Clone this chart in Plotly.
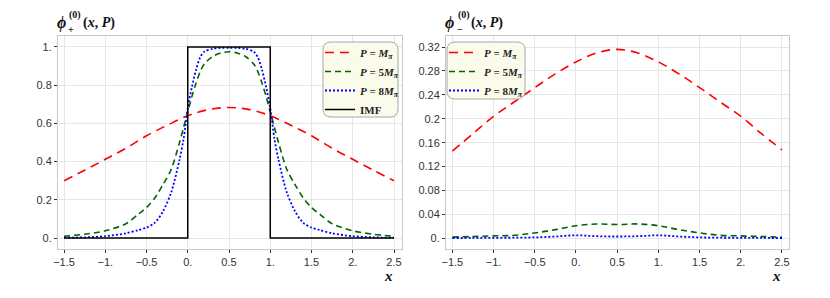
import plotly.graph_objects as go

# ---------------- data ----------------
x_red = [-1.5, -1.25, -1.0, -0.75, -0.5, -0.25, 0.0, 0.25, 0.5, 0.75, 1.0, 1.25, 1.5, 1.75, 2.0, 2.25, 2.5]
plus_M1 = [0.300, 0.355, 0.412, 0.470, 0.535, 0.590, 0.640, 0.672, 0.683, 0.672, 0.640, 0.590, 0.535, 0.470, 0.412, 0.355, 0.300]

x_steep = [-1.5, -1.25, -1.0, -0.75, -0.6, -0.5, -0.4, -0.3, -0.2, -0.1, -0.05, 0.0, 0.05, 0.1, 0.15, 0.2, 0.3, 0.4, 0.5,
           0.6, 0.7, 0.8, 0.85, 0.9, 0.95, 1.0, 1.05, 1.1, 1.2, 1.3, 1.4, 1.5, 1.6, 1.75, 2.0, 2.25, 2.5]
plus_M5 = [0.010, 0.020, 0.038, 0.075, 0.125, 0.160, 0.210, 0.280, 0.360, 0.500, 0.580, 0.660, 0.740, 0.810, 0.870, 0.910, 0.950, 0.968, 0.975,
           0.968, 0.950, 0.910, 0.870, 0.810, 0.740, 0.660, 0.580, 0.500, 0.360, 0.280, 0.210, 0.160, 0.125, 0.075, 0.038, 0.020, 0.010]
plus_M8 = [0.002, 0.004, 0.010, 0.025, 0.042, 0.055, 0.080, 0.140, 0.240, 0.410, 0.520, 0.680, 0.790, 0.880, 0.945, 0.975, 0.990, 0.995, 0.995,
           0.995, 0.990, 0.975, 0.945, 0.880, 0.790, 0.680, 0.520, 0.410, 0.240, 0.140, 0.080, 0.055, 0.042, 0.025, 0.010, 0.004, 0.002]

x_imf = [-1.5, 0.0, 0.0, 1.0, 1.0, 2.5]
imf = [0, 0, 1, 1, 0, 0]

x_minus = [-1.5, -1.25, -1.0, -0.75, -0.5, -0.25, 0.0, 0.25, 0.5, 0.75, 1.0, 1.25, 1.5, 1.75, 2.0, 2.25, 2.5]
minus_M1 = [0.146, 0.175, 0.204, 0.228, 0.252, 0.275, 0.295, 0.310, 0.316, 0.310, 0.295, 0.275, 0.252, 0.228, 0.204, 0.175, 0.148]
minus_M5 = [0.002, 0.003, 0.004, 0.005, 0.009, 0.0145, 0.021, 0.024, 0.023, 0.024, 0.021, 0.0145, 0.009, 0.005, 0.004, 0.003, 0.002]
minus_M8 = [0.0005, 0.0006, 0.0008, 0.001, 0.0015, 0.003, 0.005, 0.0035, 0.003, 0.0035, 0.005, 0.003, 0.0015, 0.001, 0.0008, 0.0006, 0.0005]

x_ticks = [-1.5, -1.0, -0.5, 0.0, 0.5, 1.0, 1.5, 2.0, 2.5]
x_ticktext = ["\u22121.5", "\u22121.", "\u22120.5", "0.", "0.5", "1.", "1.5", "2.", "2.5"]
yL_ticks = [0, 0.2, 0.4, 0.6, 0.8, 1.0]
yL_ticktext = ["0.", "0.2", "0.4", "0.6", "0.8", "1."]
yR_ticks = [0, 0.04, 0.08, 0.12, 0.16, 0.2, 0.24, 0.28, 0.32]
yR_ticktext = ["0.", "0.04", "0.08", "0.12", "0.16", "0.2", "0.24", "0.28", "0.32"]

names = ["<b><i>P</i> = <i>M</i><sub><i>\u03c0</i></sub></b>",
         "<b><i>P</i> = 5<i>M</i><sub><i>\u03c0</i></sub></b>",
         "<b><i>P</i> = 8<i>M</i><sub><i>\u03c0</i></sub></b>",
         "<b>IMF</b>"]

# ---------------- figure ----------------
# the page body has an 8px margin, so the figure is 16px smaller and offset
OFF = 8
W, H = 830 - 2 * OFF, 298 - 2 * OFF
RED, GREEN, BLUE = "#ff0000", "#006400", "#0000ff"

fig = go.Figure()
# left panel
fig.add_trace(go.Scatter(x=x_red, y=plus_M1, mode="lines", line=dict(color=RED, width=1.6, dash="9px,6px", shape="spline"),
                         name=names[0], legend="legend", xaxis="x", yaxis="y"))
fig.add_trace(go.Scatter(x=x_steep, y=plus_M5, mode="lines", line=dict(color=GREEN, width=1.6, dash="6px,4px", shape="spline", smoothing=0.8),
                         name=names[1], legend="legend", xaxis="x", yaxis="y"))
fig.add_trace(go.Scatter(x=x_steep, y=plus_M8, mode="lines", line=dict(color=BLUE, width=1.8, dash="2px,2px", shape="spline", smoothing=0.8),
                         name=names[2], legend="legend", xaxis="x", yaxis="y"))
fig.add_trace(go.Scatter(x=x_imf, y=imf, mode="lines", line=dict(color="black", width=1.5),
                         name=names[3], legend="legend", xaxis="x", yaxis="y"))
# right panel
fig.add_trace(go.Scatter(x=x_minus, y=minus_M1, mode="lines", line=dict(color=RED, width=1.6, dash="9px,6px", shape="spline"),
                         name=names[0], legend="legend2", xaxis="x2", yaxis="y2"))
fig.add_trace(go.Scatter(x=x_minus, y=minus_M5, mode="lines", line=dict(color=GREEN, width=1.6, dash="6px,4px", shape="spline"),
                         name=names[1], legend="legend2", xaxis="x2", yaxis="y2"))
fig.add_trace(go.Scatter(x=x_minus, y=minus_M8, mode="lines", line=dict(color=BLUE, width=1.8, dash="2px,2px", shape="spline"),
                         name=names[2], legend="legend2", xaxis="x2", yaxis="y2"))

def X(px):
    return (px - OFF) / W

def Y(py):
    return 1 - (py - OFF) / H

axis_common = dict(showgrid=True, gridcolor="#e6e6e6", gridwidth=1, zeroline=False,
                   showline=True, linecolor="#c8c8c8", linewidth=1, mirror=True,
                   ticks="outside", ticklen=3, tickwidth=1, tickcolor="#333333", automargin=False,
                   tickfont=dict(family="Liberation Sans, Arial", size=11, color="#333333"))

fig.update_layout(
    width=W, height=H,
    margin=dict(l=0, r=0, t=0, b=0, autoexpand=False),
    paper_bgcolor="white", plot_bgcolor="white",
    xaxis=dict(domain=[X(58), X(402)], range=[-1.573, 2.597], tickvals=x_ticks, ticktext=x_ticktext, anchor="y", **axis_common),
    yaxis=dict(domain=[Y(249), Y(36)], range=[-0.057, 1.057], tickvals=yL_ticks, ticktext=yL_ticktext, anchor="x", **axis_common),
    xaxis2=dict(domain=[X(446), X(789)], range=[-1.577, 2.585], tickvals=x_ticks, ticktext=x_ticktext, anchor="y2", **axis_common),
    yaxis2=dict(domain=[Y(249), Y(36)], range=[-0.0179, 0.3384], tickvals=yR_ticks, ticktext=yR_ticktext, anchor="x2", **axis_common),
    legend=dict(x=X(320), y=Y(38), xanchor="left", yanchor="top", bgcolor="rgba(0,0,0,0)", borderwidth=0,
                font=dict(family="Liberation Serif, Times New Roman", size=11, color="#222222"),
                tracegroupgap=0, itemwidth=30),
    legend2=dict(x=X(444), y=Y(38), xanchor="left", yanchor="top", bgcolor="rgba(0,0,0,0)", borderwidth=0,
                 font=dict(family="Liberation Serif, Times New Roman", size=11, color="#222222"),
                 tracegroupgap=0, itemwidth=30),
)

def rrect(x0, y0, x1, y1, r):
    return (f"M {X(x0+r)},{Y(y0)} L {X(x1-r)},{Y(y0)} Q {X(x1)},{Y(y0)} {X(x1)},{Y(y0+r)} "
            f"L {X(x1)},{Y(y1-r)} Q {X(x1)},{Y(y1)} {X(x1-r)},{Y(y1)} "
            f"L {X(x0+r)},{Y(y1)} Q {X(x0)},{Y(y1)} {X(x0)},{Y(y1-r)} "
            f"L {X(x0)},{Y(y0+r)} Q {X(x0)},{Y(y0)} {X(x0+r)},{Y(y0)} Z")

for box in [(323, 42, 398, 117), (447, 42, 525, 99)]:
    fig.add_shape(type="path", path=rrect(*box, 8), xref="paper", yref="paper", layer="above",
                  fillcolor="#fbfbec", line=dict(color="#a8a8a8", width=1))

serif = "Liberation Serif, Times New Roman"
def ann(text, px, py, size, xanchor="left"):
    fig.add_annotation(text=text, x=X(px), y=Y(py), xref="paper", yref="paper", showarrow=False,
                       xanchor=xanchor, yanchor="middle", font=dict(family=serif, size=size, color="#111111"))

# left y title: phi_+^(0) (x, P)
ann("<b><i>\u03d5</i></b>", 55, 23, 16)
ann("<b>(0)</b>", 67, 15, 10)
ann("<b>+</b>", 66, 29, 10)
ann("<b>(<i>x</i>, <i>P</i>)</b>", 81, 23, 14)
# right y title: phi_-^(0) (x, P)
ann("<b><i>\u03d5</i></b>", 443, 23, 16)
ann("<b>(0)</b>", 456, 15, 10)
ann("<b>\u2212</b>", 455, 29, 10)
ann("<b>(<i>x</i>, <i>P</i>)</b>", 469, 23, 14)
# x titles
ann("<b><i>x</i></b>", 388, 276, 15, "center")
ann("<b><i>x</i></b>", 776, 276, 15, "center")

fig.write_html("out.html")
